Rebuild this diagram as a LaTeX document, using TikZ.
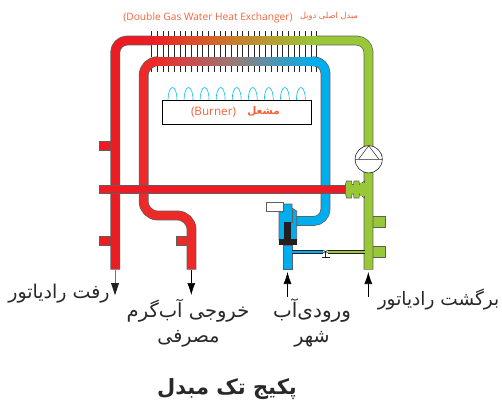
\documentclass[tikz,border=0pt]{standalone}
\usepackage{fontspec}
\TeXXeTstate=1
\newfontfamily\arabicfont[Script=Arabic]{DejaVu Sans}
\newfontfamily\latinlabel{Open Sans}
\usetikzlibrary{arrows.meta}
\definecolor{pred}{RGB}{237,28,36}
\definecolor{pred2}{RGB}{238,42,40}
\definecolor{pblue}{RGB}{0,174,239}
\definecolor{pgreen}{RGB}{152,200,56}
\definecolor{pedge}{RGB}{95,95,95}
\definecolor{lab}{RGB}{241,100,60}
\definecolor{txt}{RGB}{40,40,40}
\definecolor{pblack}{RGB}{35,31,32}
\tikzset{
 pipeedge/.style={line width=9.8pt,pedge,line join=round},
 pipefill/.style={line width=8.4pt,line join=round},
 fin/.style={line width=0.7pt,black!85},
 flame/.style={line width=0.6pt,pblue!80!cyan},
 plabel/.style={inner sep=0pt,txt,font=\arabicfont\fontsize{19}{21}\selectfont},
 arrowline/.style={line width=0.6pt,-{Latex[length=12pt,width=8pt]}},
 stub/.style={draw=pedge,line width=0.7pt,line join=miter},
}
\begin{document}
\begin{tikzpicture}[x=1pt,y=-1pt]
\useasboundingbox (0,0) rectangle (502,407);
\fill[white] (0,0) rectangle (502,407);
% fins
\foreach \i in {0,...,29}{
 \pgfmathsetmacro{\xx}{151.5+\i*5.7}
 \draw[fin] (\xx,31) -- (\xx,37);
 \draw[fin] (\xx,45) -- (\xx,57);
 \draw[fin] (\xx,66) -- (\xx,72);
}
\draw[fin] (321.5,66) -- (321.5,72);
% stubs
\foreach \ya/\yb in {141.7/150,236/245}{
 \filldraw[stub,fill=pred] (112,\ya) -- (99,\ya) -- (99,\yb) -- (112,\yb);
}
\foreach \ya/\yb in {216/227,246/257}{
 \filldraw[stub,fill=pgreen] (371,\ya) -- (385,\ya) -- (385,\yb) -- (371,\yb);
}
\filldraw[stub,fill=pred2] (188,236) -- (176,236) -- (176,245) -- (188,245);
% outer pipe
\draw[pipeedge,rounded corners=12pt] (115.2,269.5) -- (115.2,40.5) -- (152,40.5);
\draw[pipeedge,rounded corners=12pt] (316,40.5) -- (368.5,40.5) -- (368.5,269.5);
\draw[pipefill,pred,rounded corners=12pt] (115.2,269.1) -- (115.2,40.5) -- (152,40.5);
\draw[pipefill,pgreen,rounded corners=12pt] (316,40.5) -- (368.5,40.5) -- (368.5,269.1);
\fill[pedge] (151,35.7) rectangle (317,45.3);
\shade[left color=pred,right color=pgreen,middle color={rgb,255:red,200;green,125;blue,45}] (151,36.4) rectangle (317,44.6);
% inner pipe
\draw[pipeedge,rounded corners=14pt] (191.5,269.5) -- (191.5,215.5) -- (143.7,215.5) -- (143.7,61.3) -- (156,61.3);
\draw[pipefill,pred2,rounded corners=14pt] (191.5,269.1) -- (191.5,215.5) -- (143.7,215.5) -- (143.7,61.3) -- (156,61.3);
\draw[pipeedge,rounded corners=12pt] (314,61.3) -- (325.5,61.3) -- (325.5,221) -- (296,221);
\draw[pipefill,pblue,rounded corners=12pt] (314,61.3) -- (325.5,61.3) -- (325.5,221) -- (296,221);
\fill[pedge] (155,56.5) rectangle (315,66.1);
\shade[left color=pred2,right color=pblue,middle color={rgb,255:red,150;green,125;blue,120}] (155,57.2) rectangle (315,65.4);
% horizontal red pipe
\filldraw[draw=pedge,line width=0.7pt,fill=pred] (99,185) rectangle (347,193.4);
% green coupling
\filldraw[draw=pedge,line width=0.6pt,fill=pgreen] (345.5,184) -- (346.5,181) -- (351.5,181) -- (352,184.5) -- (353.5,184.5) -- (354,181) -- (359,181) -- (359.5,184.5) -- (364.5,181) -- (364.5,198) -- (359.5,194) -- (359,198) -- (354,198) -- (353.5,194) -- (352,194) -- (351.5,198) -- (346.5,198) -- (345.5,194) -- cycle;
\fill[pgreen] (360,183) rectangle (368,196);
% valve
\filldraw[draw=pedge,line width=0.6pt,fill=pblue] (279,212) -- (283,212) -- (283,204) -- (292,204) -- (292,208) -- (296.7,211) -- (296.7,240) -- (279,240) -- cycle;
\draw[pedge,line width=0.6pt] (292,208) -- (292,222) -- (284,222);
\filldraw[draw=pedge,line width=0.6pt,fill=white] (266.7,202) rectangle (283,211);
\fill[pblack] (284,222) rectangle (291,240);
\fill[pblack] (279,239) rectangle (296.7,245.3);
\filldraw[draw=pedge,line width=0.6pt,fill=pblue] (283,245.3) rectangle (292.3,269.3);
% bypass
\fill[pblue] (292.3,250) rectangle (323,253);
\fill[pgreen] (328,250) rectangle (364.5,253);
\draw[pblack,line width=0.6pt] (292.3,250) -- (323,250) (292.3,253) -- (323,253);
\draw[pblack,line width=0.6pt] (328,250) -- (364.5,250) (328,253) -- (364.5,253);
\draw[pblack,line width=0.6pt] (325.5,252) -- (325.5,257) (321.5,257) -- (329.5,257);
\draw[pblack,line width=0.5pt] (323,250) -- (328,253) (323,253) -- (328,250);
% pump
\filldraw[draw=pblack,line width=0.6pt,fill=white] (368.7,159.3) circle[radius=13.6];
\draw[pblack,line width=0.5pt] (355.1,159.3) -- (382.3,159.3) (368.7,145.7) -- (358.5,159.3) (368.7,145.7) -- (379,159.3);
% burner
\foreach \i in {0,...,8}{
 \pgfmathsetmacro{\fx}{172.5+\i*16.05}
 \draw[flame] (\fx-4.5,100) .. controls (\fx-4.5,93) and (\fx-2.5,87.5) .. (\fx,87.5) .. controls (\fx+2.5,87.5) and (\fx+4.5,93) .. (\fx+4.5,100);
}
\node[draw=black,line width=0.6pt,fill=white,minimum width=148.5pt,minimum height=24.5pt,inner sep=0pt] (burnerbox) at (236.7,112.3) {};
\node[inner sep=0pt,text=lab,font=\latinlabel\fontsize{11.7}{13}\selectfont] (burnerlat) at (213.5,112) {(Burner)};
\node[inner sep=0pt,text=lab,font=\arabicfont\bfseries\fontsize{10.5}{12}\selectfont] (burnerfa) at (263.5,111) {\beginR مشعل\endR};
\node[inner sep=0pt,text=lab,font=\latinlabel\fontsize{10.2}{11}\selectfont] (hxlat) at (208,17.5) {(Double Gas Water Heat Exchanger)};
\node[inner sep=0pt,text=lab,font=\arabicfont\fontsize{8.3}{9}\selectfont] (hxfa) at (329,16) {\beginR مبدل اصلی دوبل\endR};
% labels
\node[plabel] (rafft) at (59,294) {\beginR رفت رادیاتور\endR};
\node[plabel,font=\arabicfont\fontsize{19.5}{21}\selectfont] (hot1) at (188,311) {\beginR خروجی آب‌گرم\endR};
\node[plabel] (hot2) at (188.5,339) {\beginR مصرفی\endR};
\node[plabel,font=\arabicfont\fontsize{20}{22}\selectfont] (city1) at (312,311) {\beginR ورودی‌آب\endR};
\node[plabel] (city2) at (312,339) {\beginR شهر\endR};
\node[plabel,font=\arabicfont\fontsize{18.5}{20}\selectfont] (back) at (438.5,299) {\beginR برگشت رادیاتور\endR};
\node[inner sep=0pt,text=txt,font=\arabicfont\bfseries\fontsize{21}{23}\selectfont] (title) at (227,389) {\beginR پکیج تک مبدل\endR};
% arrows
\coordinate (a1s) at (115,270); \coordinate (a1e) at (115,295);
\coordinate (a2s) at (191.3,270); \coordinate (a2e) at (191.3,295);
\coordinate (a3s) at (287.5,297); \coordinate (a3e) at (287.5,272);
\coordinate (a4s) at (368.3,297); \coordinate (a4e) at (368.3,272);
\draw[arrowline,draw=black!55] (a1s) -- (a1e);
\fill[pblack] (115,295) -- (111,283) -- (119,283) -- cycle;
\draw[arrowline,black] (a2s) -- (a2e);
\draw[arrowline,black] (a3s) -- (a3e);
\draw[arrowline,black] (a4s) -- (a4e);
\end{tikzpicture}
\end{document}
